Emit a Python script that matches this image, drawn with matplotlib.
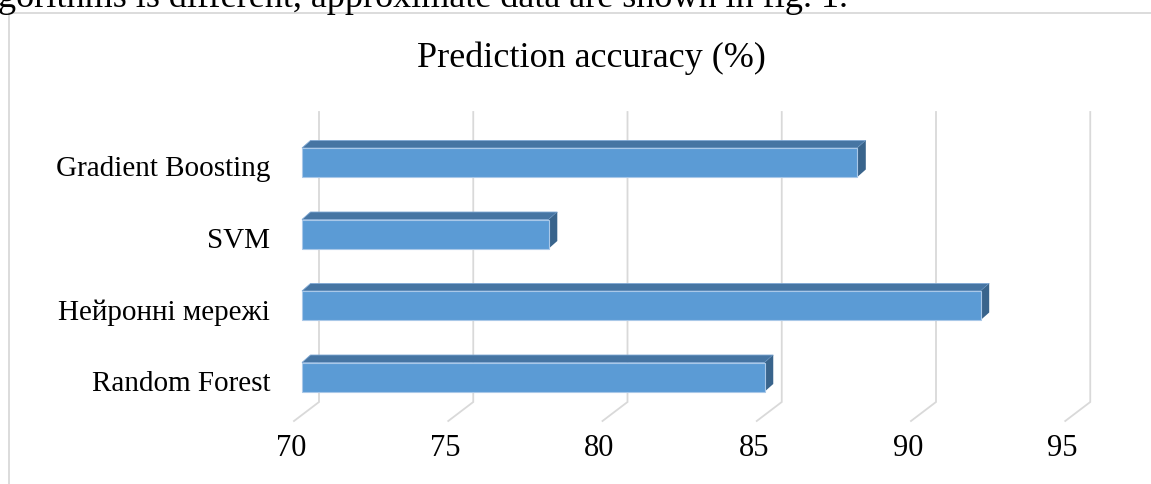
import matplotlib
matplotlib.use("Agg")
import matplotlib.pyplot as plt
from matplotlib.patches import Polygon
from matplotlib.lines import Line2D

plt.rcParams['font.family'] = ['Liberation Serif', 'DejaVu Serif']

# data (bottom to top)
categories = ["Random Forest", "Нейронні мережі", "SVM", "Gradient Boosting"]
accuracy = [85, 92, 78, 88]
ticks = [70, 75, 80, 85, 90, 95]
title = "Prediction accuracy (%)"
page_text = "algorithms is different, approximate data are shown in fig. 1."

W, H = 1151, 484
PX_X = 30.85   # pixels per accuracy unit
PX_Y = 71.5    # pixels per category
X0 = 294       # pixel x of 70 on the front plane
Y0 = 377       # pixel y of first bar centre

fig = plt.figure(figsize=(W / 100, H / 100), dpi=100)
ax = fig.add_axes([0, 0, 1, 1])
ax.set_xlim(70 - X0 / PX_X, 70 + (W - X0) / PX_X)
ax.set_ylim(-(H - Y0) / PX_Y, Y0 / PX_Y)
ax.axis('off')

# oblique depth offsets (data units)
floor_dx, floor_dy = 25 / PX_X, 19 / PX_Y
floor_y = (Y0 - 421) / PX_Y
wall_top = (Y0 - 112) / PX_Y
bar_shift = 8 / PX_X
bar_dx, bar_dy = 8.5 / PX_X, 7.5 / PX_Y
half_h = 14.5 / PX_Y
grid_col = "#D9D9D9"

# gridlines: floor diagonal + back wall vertical
for t in ticks:
    ax.plot([t, t + floor_dx, t + floor_dx],
            [floor_y, floor_y + floor_dy, wall_top],
            color=grid_col, lw=1.3, zorder=1, solid_joinstyle='miter')
    ax.text(t - 0.1, (Y0 - 448) / PX_Y, str(t), ha='center', va='center',
            fontsize=22, color='black')

face_col = "#5B9BD5"
top_col = "#4675A3"
side_col = "#39648C"

for i, (cat, val) in enumerate(zip(categories, accuracy)):
    x1 = ticks[0] + bar_shift
    x2 = val + bar_shift
    yb, yt = i - half_h, i + half_h
    front = [(x1, yb), (x2, yb), (x2, yt), (x1, yt)]
    top = [(x1, yt), (x2, yt), (x2 + bar_dx, yt + bar_dy), (x1 + bar_dx, yt + bar_dy)]
    side = [(x2, yb), (x2 + bar_dx, yb + bar_dy), (x2 + bar_dx, yt + bar_dy), (x2, yt)]
    ax.add_patch(Polygon(top, closed=True, facecolor=top_col, edgecolor='#7FA8D4', lw=0.6, zorder=3))
    ax.add_patch(Polygon(side, closed=True, facecolor=side_col, edgecolor='none', zorder=3))
    ax.add_patch(Polygon(front, closed=True, facecolor=face_col, edgecolor='#A9C8E8', lw=0.8, zorder=4))
    ax.text(70 + (270 - X0) / PX_X, i - 7 / PX_Y, cat, ha='right', va='center',
            fontsize=21, color='black')

fig.text(591 / W, 1 - 58 / H, title, ha='center', va='center', fontsize=26, color='black')

# chart border (continues past right and bottom edges)
fig.add_artist(Line2D([9 / W, 9 / W, 1.01], [-0.01, 1 - 13 / H, 1 - 13 / H],
                      transform=fig.transFigure, color=grid_col, lw=1.3))

# text line of the page above the chart, cut off by the crop as in the source
fig.text(848 / W, 1 - 7 / H, page_text, ha='right', va='baseline', fontsize=26, color='black')

fig.savefig("out.png", dpi=100)
